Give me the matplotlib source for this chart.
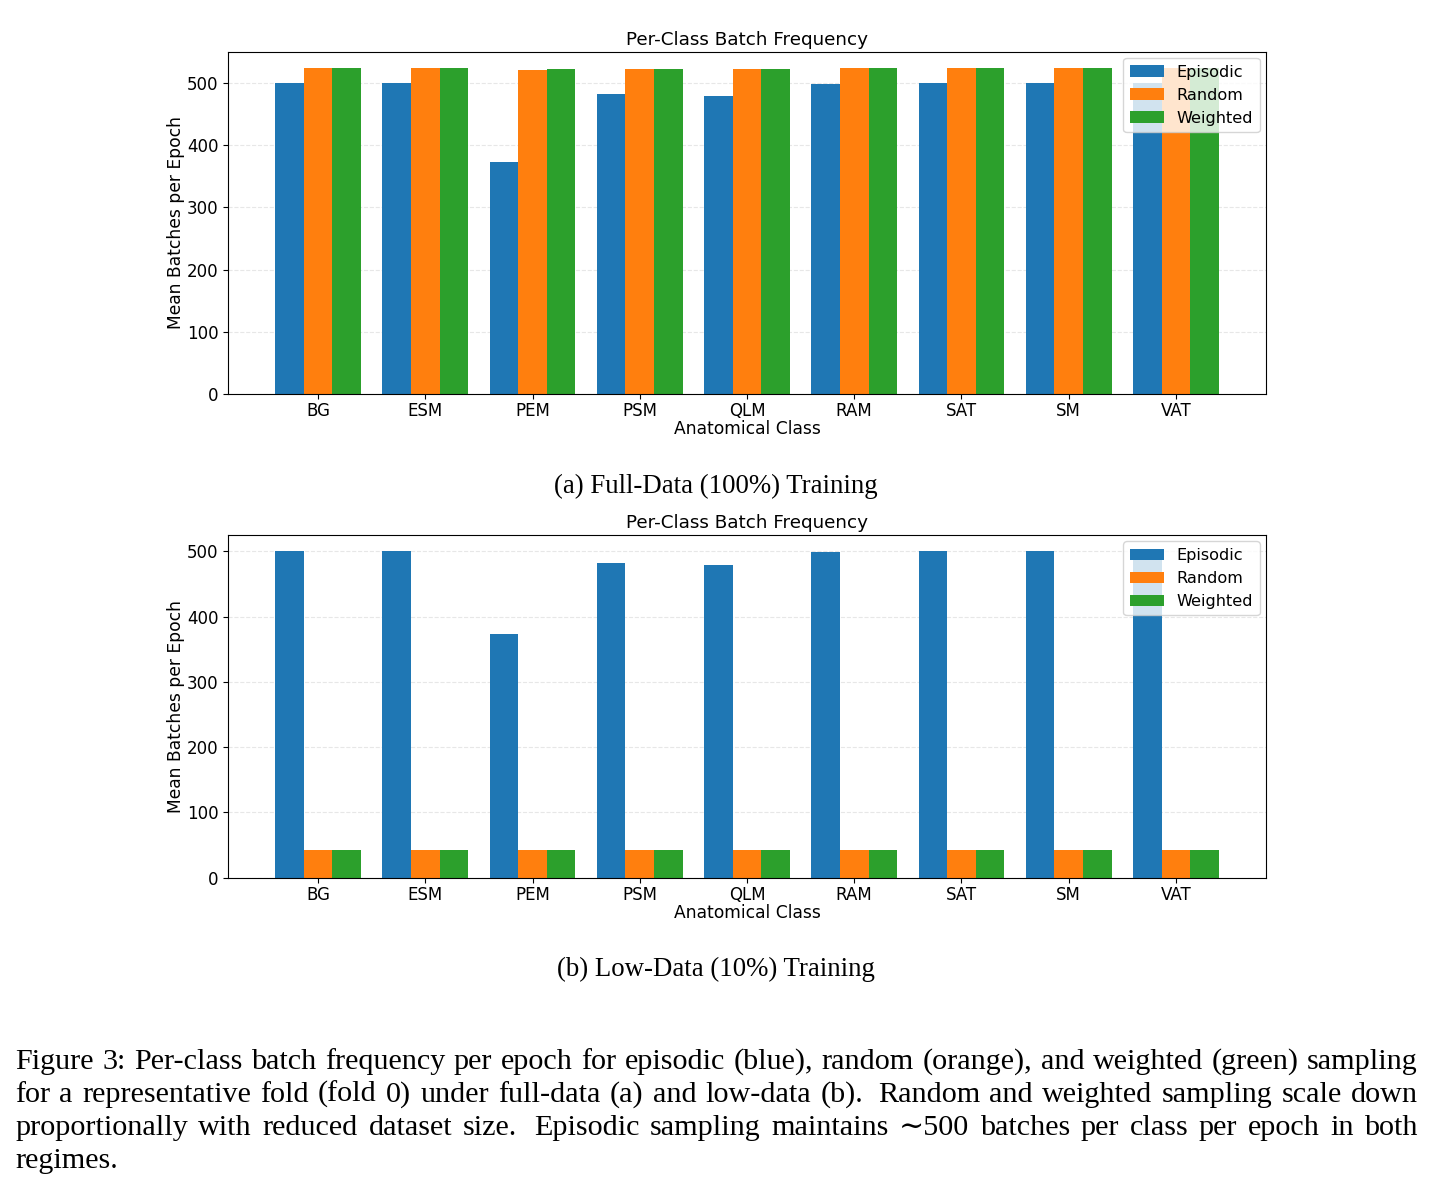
import numpy as np
import matplotlib
matplotlib.use("Agg")
import matplotlib.pyplot as plt

# data
classes = ["BG", "ESM", "PEM", "PSM", "QLM", "RAM", "SAT", "SM", "VAT"]
series = ["Episodic", "Random", "Weighted"]

full_episodic = [500, 500, 373, 482, 479, 499, 500, 500, 500]
full_random = [524, 524, 520, 523, 523, 524, 524, 524, 524]
full_weighted = [524, 524, 523, 523, 523, 524, 524, 524, 524]

low_episodic = [500, 500, 373, 482, 479, 499, 500, 500, 500]
low_random = [42, 42, 42, 42, 42, 42, 42, 42, 42]
low_weighted = [42, 42, 42, 42, 42, 42, 42, 42, 42]

sub_a = "(a) Full-Data (100%) Training"
sub_b = "(b) Low-Data (10%) Training"
caption_lines = [
    "Figure 3: Per-class batch frequency per epoch for episodic (blue), random (orange), and weighted (green) sampling",
    "for a representative fold (fold 0) under full-data (a) and low-data (b). Random and weighted sampling scale down",
    "proportionally with reduced dataset size. Episodic sampling maintains \u223c500 batches per class per epoch in both",
    "regimes.",
]

colors = ["#1f77b4", "#ff7f0e", "#2ca02c"]
W, H = 1435, 1190
fig = plt.figure(figsize=(W / 100, H / 100), dpi=100)

def draw_panel(rect, vals):
    ax = fig.add_axes(rect)
    x = np.arange(len(classes))
    w = 0.8 / 3
    for k, (name, v) in enumerate(zip(series, vals)):
        ax.bar(x + (k - 1) * w, v, w, label=name, color=colors[k])
    ax.set_xticks(x)
    ax.set_xticklabels(classes, fontsize=12)
    ax.tick_params(axis="y", labelsize=12)
    ax.tick_params(axis="x", pad=2.5)
    ax.set_xlabel("Anatomical Class", fontsize=12.3, labelpad=0)
    ax.set_ylabel("Mean Batches per Epoch", fontsize=12.3, labelpad=1)
    ax.set_title("Per-Class Batch Frequency", fontsize=13.2, pad=5)
    ax.yaxis.grid(True, linestyle="--", alpha=0.3)
    ax.set_axisbelow(True)
    ax.legend(loc="upper right", fontsize=11.6, labelspacing=0.5,
              handlelength=2.1, borderaxespad=0.4)
    return ax

draw_panel([228 / W, 1 - 394 / H, (1266 - 228) / W, (394 - 51.7) / H],
           [full_episodic, full_random, full_weighted])
draw_panel([228 / W, 1 - 877.7 / H, (1266 - 228) / W, (877.7 - 535) / H],
           [low_episodic, low_random, low_weighted])

serif = ["Liberation Serif", "DejaVu Serif"]
fs = 19.4
fig.text(716 / W, 1 - 493 / H, sub_a, ha="center", va="baseline", fontsize=fs, family=serif)
fig.text(716 / W, 1 - 976 / H, sub_b, ha="center", va="baseline", fontsize=fs, family=serif)

# justified caption, font size fitted so the first line fills the width
renderer = fig.canvas.get_renderer()
left, right = 15, 1418
probe = fig.text(0, 0, caption_lines[0], fontsize=fs, family=serif)
natural = probe.get_window_extent(renderer).width
probe.remove()
cfs = fs * (right - left) * 0.985 / natural

baselines = [1069, 1102, 1135, 1168]
for i, (line, yb) in enumerate(zip(caption_lines, baselines)):
    words = line.split(" ")
    texts = []
    widths = []
    for wd in words:
        t = fig.text(0, 1 - yb / H, wd, ha="left", va="baseline", fontsize=cfs, family=serif)
        widths.append(t.get_window_extent(renderer).width)
        texts.append(t)
    if i == len(caption_lines) - 1:
        space = cfs * 1.389 * 0.25
        weights = [1.0] * (len(words) - 1)
    else:
        weights = [1.6 if words[j].endswith(".") else 1.0 for j in range(len(words) - 1)]
        space = (right - left - sum(widths)) / sum(weights)
    xpos = left
    for j, t in enumerate(texts):
        t.set_x(xpos / W)
        if j < len(weights):
            xpos += widths[j] + space * weights[j]

fig.savefig("out.png", dpi=100)
